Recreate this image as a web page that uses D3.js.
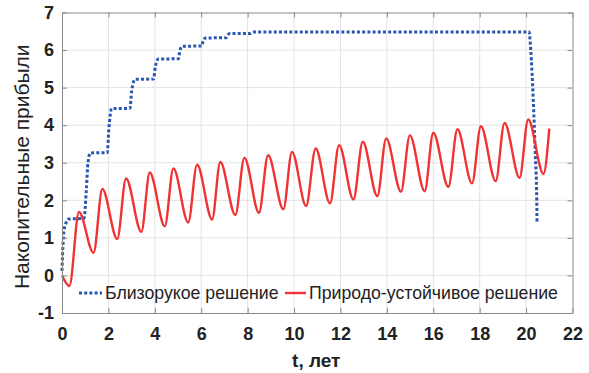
<!DOCTYPE html>
<html>
<head>
  <meta charset="utf-8">
  <title>Накопительные прибыли</title>
  <script src="https://d3js.org/d3.v7.min.js"></script>
  <style>
    body { margin: 0; background: #fff; font-family: "Liberation Sans", Arial, sans-serif; }
    .tick text { font-weight: bold; font-size: 18px; fill: #222; }
    .frame path.domain { stroke: #8a8a8a; }
    .frame .tick line { stroke: #8a8a8a; }
    .grid line { stroke: #e3e3e3; }
  </style>
</head>
<body>
  <svg width="589" height="373"></svg>

  <script>
    // tick values
    const xTicks = [0, 2, 4, 6, 8, 10, 12, 14, 16, 18, 20, 22];
    const yTicks = [-1, 0, 1, 2, 3, 4, 5, 6, 7];

    // Близорукое решение
    const myopicT = [0, 0.05, 0.12, 0.3, 0.95, 1.05, 1.12, 1.22, 1.95, 2.02, 2.14, 2.93, 3.0, 3.15,
      3.95, 4.02, 4.15, 5.02, 5.08, 5.18, 6.03, 6.08, 6.18, 7.08, 7.14, 7.24, 8.1, 8.24,
      20.13, 20.2, 20.31, 20.39, 20.46, 20.47];
    const myopicV = [0.12, 0.9, 1.3, 1.5, 1.52, 2.3, 3.0, 3.26, 3.27, 3.9, 4.44, 4.45, 4.9, 5.22,
      5.23, 5.55, 5.76, 5.77, 5.98, 6.1, 6.11, 6.24, 6.32, 6.33, 6.4, 6.44, 6.44, 6.48,
      6.48, 6.0, 4.66, 3.33, 2.0, 1.43];

    // Природо-устойчивое решение (peaks and troughs)
    const sustT = [0, 0.32, 0.73, 1.36, 1.74, 2.38, 2.76, 3.42, 3.78, 4.43, 4.80, 5.44, 5.82, 6.47,
      6.82, 7.47, 7.86, 8.49, 8.88, 9.54, 9.91, 10.52, 10.93, 11.55, 11.94, 12.56, 12.96,
      13.59, 13.97, 14.61, 14.99, 15.63, 16.0, 16.65, 17.04, 17.67, 18.05, 18.69, 19.07,
      19.72, 20.09, 20.75, 21.0];
    const sustV = [0, -0.28, 1.69, 0.60, 2.30, 0.97, 2.58, 1.16, 2.74, 1.31, 2.85, 1.41, 2.95, 1.49,
      3.02, 1.61, 3.13, 1.67, 3.20, 1.76, 3.29, 1.85, 3.38, 1.92, 3.47, 2.02, 3.56,
      2.11, 3.65, 2.23, 3.73, 2.24, 3.80, 2.36, 3.89, 2.45, 3.97, 2.51, 4.06,
      2.60, 4.15, 2.70, 3.91];

    const legendLabels = ["Близорукое решение", "Природо-устойчивое решение"];
    const blue = "#2857b0", red = "#f03232";

    const svg = d3.select("svg");
    const L = 62, R = 572.5, T = 12.5, B = 313;
    const x = d3.scaleLinear().domain([0, 22]).range([L, R]);
    const y = d3.scaleLinear().domain([-1, 7]).range([B, T]);

    // grid
    const grid = svg.append("g").attr("class", "grid");
    grid.selectAll(".gx").data(xTicks.slice(1, -1)).join("line")
      .attr("x1", d => x(d)).attr("x2", d => x(d)).attr("y1", T).attr("y2", B);
    grid.selectAll(".gy").data(yTicks.slice(1, -1)).join("line")
      .attr("x1", L).attr("x2", R).attr("y1", d => y(d)).attr("y2", d => y(d));

    // lines
    const blueLine = d3.line().x(d => x(d[0])).y(d => y(d[1])).curve(d3.curveMonotoneX);
    svg.append("path")
      .datum(myopicT.map((t, i) => [t, myopicV[i]]))
      .attr("d", blueLine)
      .attr("fill", "none").attr("stroke", blue).attr("stroke-width", 3)
      .attr("stroke-dasharray", "3,2.2");

    const redLine = d3.line().x(d => x(d[0])).y(d => y(d[1])).curve(d3.curveMonotoneX);
    svg.append("path")
      .datum(sustT.map((t, i) => [t, sustV[i]]))
      .attr("d", redLine)
      .attr("fill", "none").attr("stroke", red).attr("stroke-width", 2.4)
      .attr("stroke-linejoin", "round");

    // axes (ticks inside, box)
    const gx = svg.append("g").attr("class", "frame").attr("transform", `translate(0,${B})`)
      .call(d3.axisBottom(x).tickValues(xTicks).tickSizeInner(-5).tickSizeOuter(0).tickPadding(10));
    gx.selectAll(".tick text").attr("dy", "0.95em");
    svg.append("g").attr("class", "frame")
      .call(d3.axisLeft(y).tickValues(yTicks).tickSizeInner(-5).tickSizeOuter(0).tickPadding(8))
      .attr("transform", `translate(${L},0)`)
      .selectAll(".tick text").text(d => d < 0 ? "-" + Math.abs(d) : d);
    svg.append("g").attr("class", "frame").attr("transform", `translate(0,${T})`)
      .call(d3.axisTop(x).tickValues(xTicks).tickSizeInner(-5).tickSizeOuter(0).tickFormat(""));
    svg.append("g").attr("class", "frame").attr("transform", `translate(${R},0)`)
      .call(d3.axisRight(y).tickValues(yTicks).tickSizeInner(-5).tickSizeOuter(0).tickFormat(""));

    // axis titles
    svg.append("text").attr("x", (L + R) / 2 - 1).attr("y", 367)
      .attr("text-anchor", "middle").attr("font-size", 19).attr("font-weight", "bold").attr("fill", "#222")
      .text("t, лет");
    svg.append("text").attr("transform", `translate(29,${(T + B) / 2 + 4}) rotate(-90)`)
      .attr("text-anchor", "middle").attr("font-size", 21).attr("fill", "#222")
      .text("Накопительные прибыли");

    // legend
    const lg = svg.append("g");
    const items = [
      { label: legendLabels[0], color: blue, dash: "3,2.2", w: 3, x0: 79, x1: 102, tx: 105 },
      { label: legendLabels[1], color: red, dash: null, w: 2.4, x0: 285, x1: 306, tx: 309 }
    ];
    items.forEach(it => {
      lg.append("line").attr("x1", it.x0).attr("x2", it.x1).attr("y1", 293).attr("y2", 293)
        .attr("stroke", it.color).attr("stroke-width", it.w).attr("stroke-dasharray", it.dash);
      lg.append("text").attr("x", it.tx).attr("y", 293).attr("dy", "0.35em")
        .attr("font-size", 17.7).attr("fill", "#222").text(it.label);
    });
  </script>
</body>
</html>
